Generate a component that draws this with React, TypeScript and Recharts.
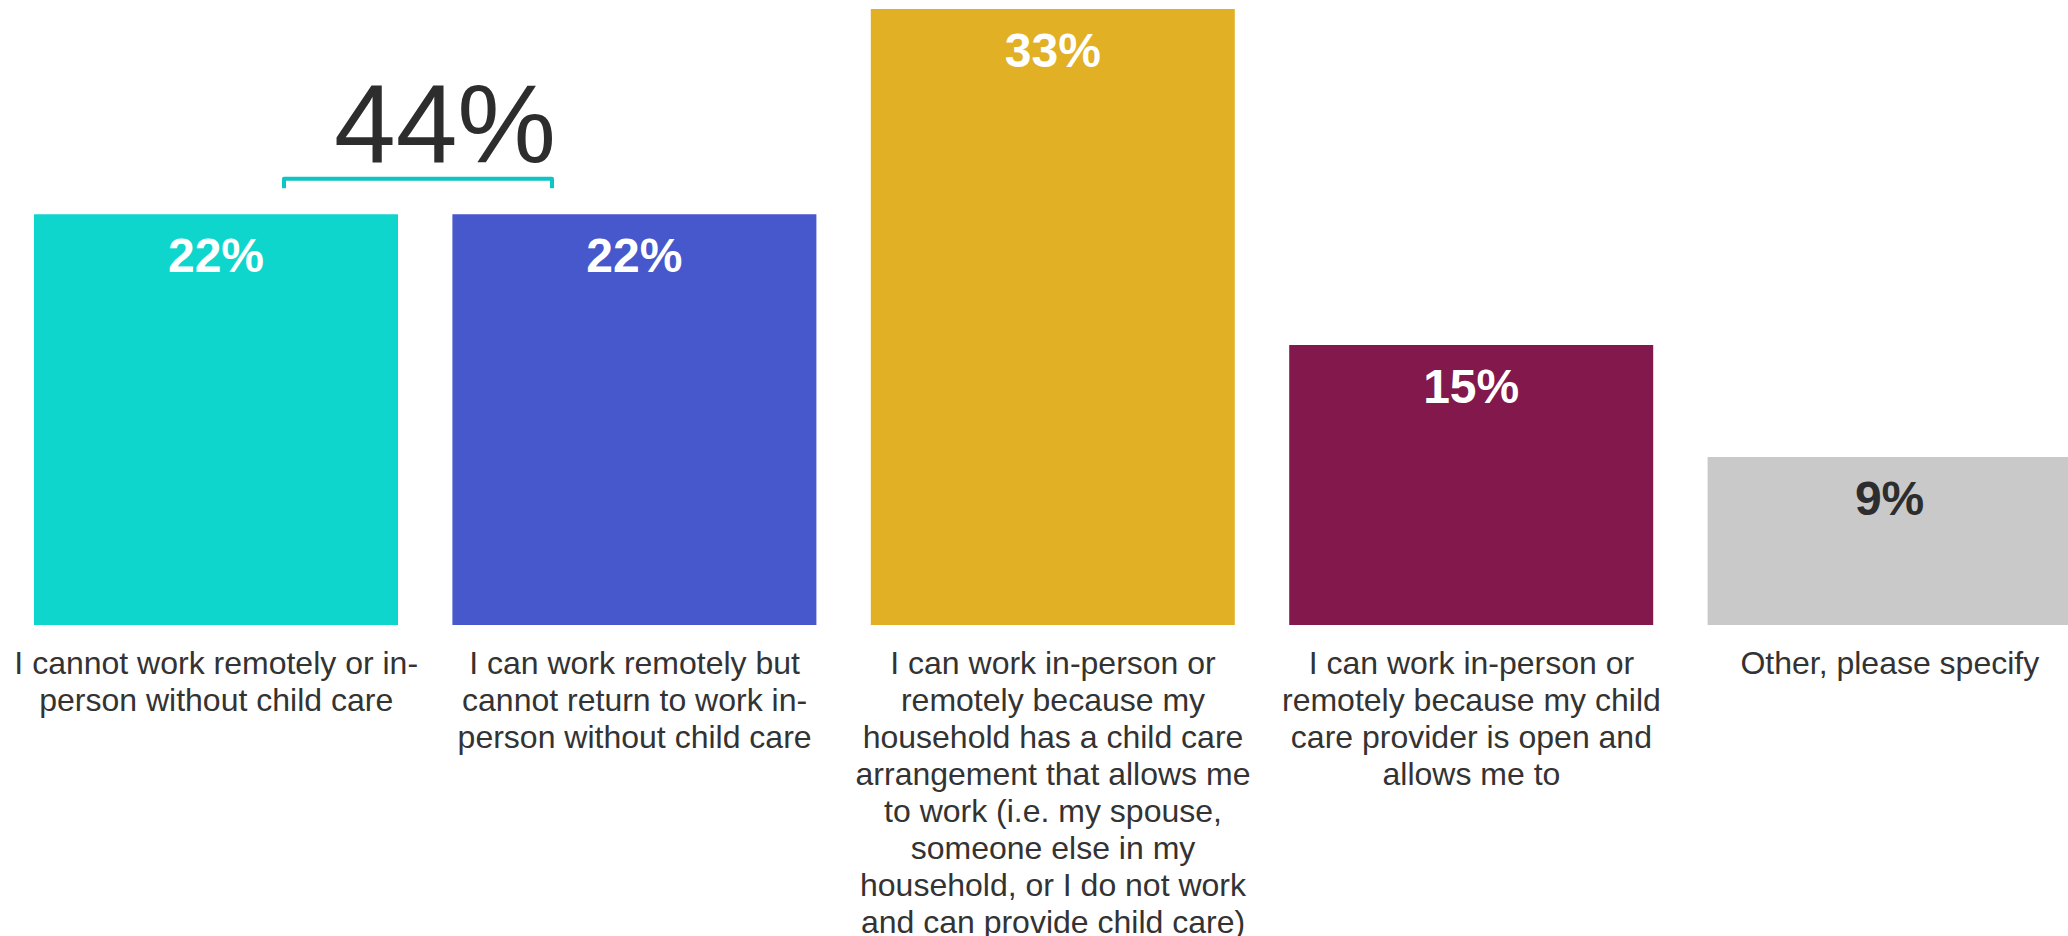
import React from 'react';
import { BarChart, Bar, XAxis, YAxis, Cell, LabelList } from 'recharts';

const categories = [
  'I cannot work remotely or in-person without child care',
  'I can work remotely but cannot return to work in-person without child care',
  'I can work in-person or remotely because my household has a child care arrangement that allows me to work (i.e. my spouse, someone else in my household, or I do not work and can provide child care)',
  'I can work in-person or remotely because my child care provider is open and allows me to',
  'Other, please specify',
];

const values = [22, 22, 33, 15, 9];

const tickLines: string[][] = [
  ['I cannot work remotely or in-', 'person without child care'],
  ['I can work remotely but', 'cannot return to work in-', 'person without child care'],
  [
    'I can work in-person or',
    'remotely because my',
    'household has a child care',
    'arrangement that allows me',
    'to work (i.e. my spouse,',
    'someone else in my',
    'household, or I do not work',
    'and can provide child care)',
  ],
  ['I can work in-person or', 'remotely because my child', 'care provider is open and', 'allows me to'],
  ['Other, please specify'],
];

const COLORS = ['#0ed6cc', '#4757cc', '#e1b024', '#82184c', '#c9c9c9'];
const LABEL_COLORS = ['#ffffff', '#ffffff', '#ffffff', '#ffffff', '#2d2d2d'];

const FONT = '"Liberation Sans", Arial, sans-serif';

const chartData = categories.map((name, i) => ({ name, value: values[i], idx: i }));

// the two "without child care" answers are grouped together
const groupTotal = values[0] + values[1];

const CategoryTick = (props: any) => {
  const { x, y, payload } = props;
  const lines = tickLines[payload.index] || [String(payload.value)];
  return (
    <text x={x} y={y} textAnchor="middle" fill="#333333" fontSize={32} fontFamily={FONT}>
      {lines.map((line, i) => (
        <tspan key={i} x={x} dy={i === 0 ? 49 : 37}>
          {line}
        </tspan>
      ))}
    </text>
  );
};

const ValueLabel = (props: any) => {
  const { x, y, width, value, index } = props;
  const cx = x + width / 2;
  return (
    <g>
      <text
        x={cx}
        y={y + 58}
        textAnchor="middle"
        fill={LABEL_COLORS[index]}
        fontSize={48}
        fontWeight="bold"
        fontFamily={FONT}
      >
        {`${value}%`}
      </text>
      {index === 0 && (
        <g>
          <path
            d={`M${x + 250},${y - 26} L${x + 250},${y - 35.5} L${x + 518},${y - 35.5} L${x + 518},${y - 26}`}
            fill="none"
            stroke="#0ec4c4"
            strokeWidth={4}
            strokeLinejoin="round"
          />
          <text
            x={x + 411}
            y={y - 52}
            textAnchor="middle"
            fill="#2d2d2d"
            fontSize={111}
            fontFamily={FONT}
          >
            {`${groupTotal}%`}
          </text>
        </g>
      )}
    </g>
  );
};

export default function App() {
  return (
    <div
      style={{
        position: 'absolute',
        left: 0,
        top: 0,
        width: 2068,
        height: 936,
        overflow: 'hidden',
        background: '#ffffff',
      }}
    >
      <BarChart
        width={2100}
        height={936}
        data={chartData}
        margin={{ top: 9, right: 1, left: 7, bottom: 0 }}
      >
        <XAxis
          dataKey="name"
          axisLine={false}
          tickLine={false}
          tickSize={0}
          tickMargin={0}
          height={311}
          interval={0}
          tick={<CategoryTick />}
        />
        <YAxis hide domain={[0, 33]} />
        <Bar dataKey="value" barSize={364} isAnimationActive={false}>
          {chartData.map((d) => (
            <Cell key={d.idx} fill={COLORS[d.idx]} />
          ))}
          <LabelList dataKey="value" content={<ValueLabel />} />
        </Bar>
      </BarChart>
    </div>
  );
}
